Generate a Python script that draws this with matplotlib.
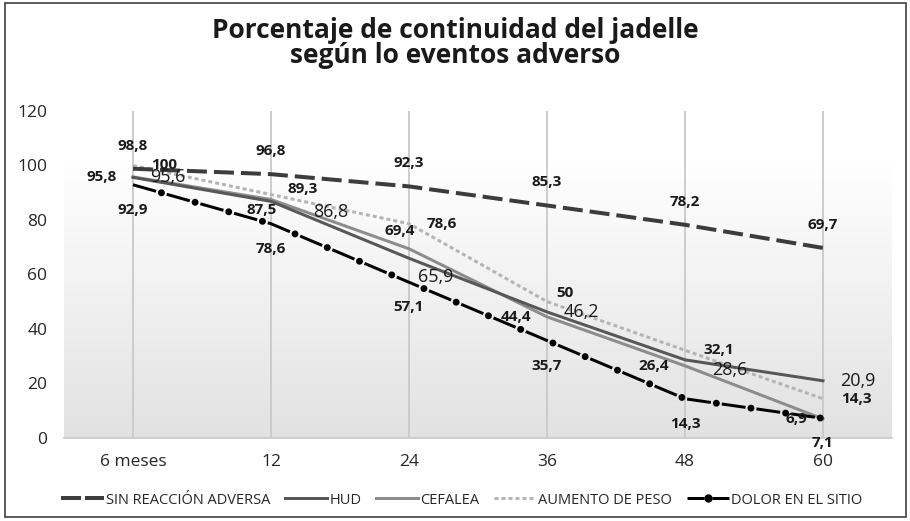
import matplotlib
matplotlib.use("Agg")
import matplotlib.pyplot as plt
import numpy as np
from matplotlib.lines import Line2D
from matplotlib.patches import Rectangle

plt.rcParams['font.family'] = ['Open Sans', 'DejaVu Sans']
plt.rcParams['lines.scale_dashes'] = False

categories = ["6 meses", "12", "24", "36", "48", "60"]
sin_reaccion = [98.8, 96.8, 92.3, 85.3, 78.2, 69.7]
hud = [95.6, 86.8, 65.9, 46.2, 28.6, 20.9]
cefalea = [95.8, 87.5, 69.4, 44.4, 26.4, 6.9]
aumento_peso = [100, 89.3, 78.6, 50, 32.1, 14.3]
dolor_sitio = [92.9, 78.6, 57.1, 35.7, 14.3, 7.1]
series_names = ["SIN REACCIÓN ADVERSA", "HUD", "CEFALEA", "AUMENTO DE PESO", "DOLOR EN EL SITIO"]
title = "Porcentaje de continuidad del jadelle\nsegún lo eventos adverso"

W, H = 910, 521
fig = plt.figure(figsize=(W / 100, H / 100), dpi=100)
ax = fig.add_axes([64 / W, 1 - 437.7 / H, (892 - 64) / W, (437.7 - 111) / H])

x = np.arange(len(categories))
PX = 0.72  # points per pixel

# gradient background
yy = np.linspace(0, 1, 256)
grad = np.clip(0.885 + (1.0 - 0.885) * yy / 0.85, 0, 1).reshape(-1, 1)
ax.imshow(np.dstack([grad, grad, grad]), extent=[-0.5, 5.5, 0, 120], origin='lower',
          aspect='auto', zorder=0)
ax.set_xlim(-0.5, 5.5)
ax.set_ylim(0, 120)

for xi in x:
    ax.axvline(xi, color='#c9c9c9', lw=1.3, zorder=1)

lw = 3 * PX
ax.plot(x, sin_reaccion, color='#3c3c3c', lw=4 * PX, linestyle=(0, (20 * PX, 7 * PX)),
        dash_capstyle='butt', zorder=5)
ax.plot(x, hud, color='#575757', lw=lw, solid_joinstyle='round', zorder=4)
ax.plot(x, cefalea, color='#8c8c8c', lw=lw, solid_joinstyle='round', zorder=3)
ax.plot(x, aumento_peso, color='#b4b4b4', lw=lw, linestyle=(0, (4 * PX, 3 * PX)),
        dash_capstyle='butt', zorder=2)
on, off = 24 * PX, 11 * PX
period = on + off
ax.plot(x, dolor_sitio, color='black', lw=lw, linestyle=(0, (on, off)),
        dash_capstyle='butt', zorder=6)
ax.plot(x, dolor_sitio, color='black', lw=7 * PX,
        linestyle=(period - (on + off / 2), (0.01, period - 0.01)),
        dash_capstyle='round', zorder=6)

bold_fs = 11
reg_fs = 13

def lab(xi, yi, val, dx, dy, ha, bold=True):
    txt = f"{val:g}".replace('.', ',')
    ax.annotate(txt, (xi, yi), xytext=(dx * PX, -dy * PX), textcoords='offset points',
                ha=ha, va='center', fontsize=bold_fs if bold else reg_fs,
                fontweight='bold' if bold else 'normal', color='#1a1a1a', zorder=10)

for i, v in enumerate(sin_reaccion):
    lab(x[i], v, v, 0, -23, 'center')
for i, v in enumerate(dolor_sitio):
    lab(x[i], v, v, 0, 25, 'center')
cef_off = {1: (-9, 11, 'center'), 2: (-9, -18, 'center')}
for i, v in enumerate(cefalea):
    dx, dy, ha = cef_off.get(i, (-16, 0, 'right'))
    lab(x[i], v, v, dx, dy, ha)
aum_off = {1: (16, -6), 3: (9, -9)}
for i, v in enumerate(aumento_peso):
    dx, dy = aum_off.get(i, (18, 0))
    lab(x[i], v, v, dx, dy, 'left')
hud_off = {1: (42, 11), 2: (9, 19), 4: (27, 10)}
for i, v in enumerate(hud):
    dx, dy = hud_off.get(i, (17, 0))
    lab(x[i], v, v, dx, dy, 'left', bold=False)

ax.set_xticks(x)
ax.set_xticklabels(categories)
ax.set_yticks(np.arange(0, 121, 20))
ax.tick_params(axis='both', length=0, labelsize=12.5, colors='#262626')
ax.tick_params(axis='x', pad=12)
ax.tick_params(axis='y', pad=12)
for s in ['top', 'right', 'left']:
    ax.spines[s].set_visible(False)
ax.spines['bottom'].set_color('#cccccc')
ax.spines['bottom'].set_linewidth(1.3)

fig.text(0.5, 1 - 43 / H, title, ha='center', va='center', fontsize=19,
         fontweight='bold', color='#1a1a1a', linespacing=0.92)

handles = [
    Line2D([], [], color='#3c3c3c', lw=4 * PX, linestyle=(0, (20 * PX, 4 * PX)), dash_capstyle='butt'),
    Line2D([], [], color='#575757', lw=lw),
    Line2D([], [], color='#8c8c8c', lw=lw),
    Line2D([], [], color='#b4b4b4', lw=lw, linestyle=(0, (4 * PX, 3 * PX)), dash_capstyle='butt'),
    Line2D([], [], color='black', lw=lw, linestyle=(0, (17 * PX, 8 * PX)), marker='o',
           markersize=5, dash_capstyle='butt'),
]
leg = fig.legend(handles, series_names, loc='center', bbox_to_anchor=(462 / W, 1 - 500 / H),
                 ncol=5, frameon=False, fontsize=10.5, handlelength=2.9, handletextpad=0.15,
                 columnspacing=1.0, numpoints=1, borderaxespad=0)
for t in leg.get_texts():
    t.set_color('#262626')

fig.add_artist(Rectangle((5 / W, 1 - 517 / H), 901 / W, 514 / H, transform=fig.transFigure,
                         fill=False, edgecolor='#404040', lw=1.2))

fig.savefig("out.png", dpi=100)
